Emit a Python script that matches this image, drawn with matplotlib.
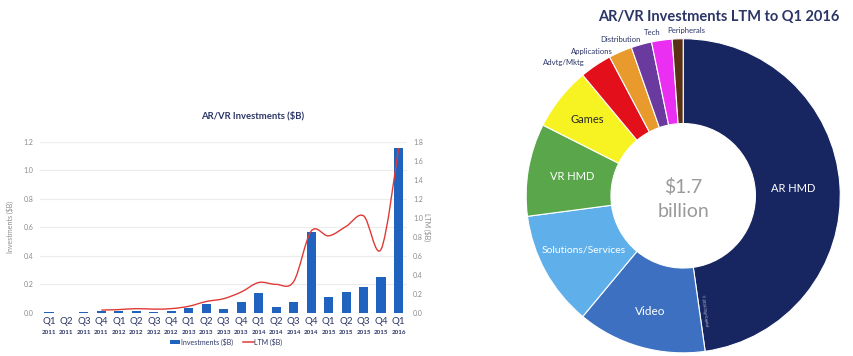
import numpy as np
import matplotlib
matplotlib.use("Agg")
import matplotlib.pyplot as plt
from matplotlib.path import Path
from matplotlib.patches import PathPatch, Patch
from matplotlib.lines import Line2D

plt.rcParams["font.family"] = ["Lato", "DejaVu Sans"]

# ---------------------------------------------------------
# Quarterly investments ($B) and trailing 12-month totals
# ---------------------------------------------------------
quarters = ["Q1", "Q2", "Q3", "Q4"] * 5 + ["Q1"]
years = ["2011"] * 4 + ["2012"] * 4 + ["2013"] * 4 + ["2014"] * 4 + ["2015"] * 4 + ["2016"]
investments = [0.005, 0.002, 0.007, 0.010, 0.015, 0.015, 0.003, 0.015,
               0.035, 0.060, 0.030, 0.080, 0.140, 0.045, 0.080, 0.565,
               0.115, 0.148, 0.180, 0.250, 1.155]
# LTM series begins at Q4 2011 (index 3)
ltm_start = 3
ltm = [0.030, 0.035, 0.045, 0.040, 0.045, 0.070, 0.120, 0.150, 0.220,
       0.320, 0.300, 0.330, 0.860, 0.810, 0.910, 1.020, 0.670, 1.730]

# ---------------------------------------------------------
# LTM breakdown by segment ($M)
# ---------------------------------------------------------
segments = ["AR HMD", "Video", "Solutions/Services", "VR HMD", "Games",
            "Advtg/Mktg", "Applications", "Distribution", "Tech", "Peripherals"]
segment_values = [813, 226, 202, 162, 111, 56, 41, 36, 36, 19]
segment_colors = ["#172660", "#3d70c0", "#5fb0ea", "#5aa64a", "#f7f322",
                  "#e3101c", "#e89a2c", "#6b3a9e", "#ea2ef2", "#5a3112"]

NAVY = "#2b3566"
GREY = "#8a8a8a"
BAR_BLUE = "#1f63bf"
LINE_RED = "#e03a36"


def smooth_path(xs, ys, tension=0.5):
    """Catmull-Rom style cubic path through the given points."""
    xs = np.asarray(xs, float)
    ys = np.asarray(ys, float)
    verts = [(xs[0], ys[0])]
    codes = [Path.MOVETO]
    n = len(xs)
    for i in range(n - 1):
        x0, y0 = (xs[i - 1], ys[i - 1]) if i > 0 else (xs[i], ys[i])
        x3, y3 = (xs[i + 2], ys[i + 2]) if i + 2 < n else (xs[i + 1], ys[i + 1])
        x1, y1 = xs[i], ys[i]
        x2, y2 = xs[i + 1], ys[i + 1]
        c1 = (x1 + (x2 - x0) * tension / 3, y1 + (y2 - y0) * tension / 3)
        c2 = (x2 - (x3 - x1) * tension / 3, y2 - (y3 - y1) * tension / 3)
        verts += [c1, c2, (x2, y2)]
        codes += [Path.CURVE4] * 3
    return Path(verts, codes)


fig = plt.figure(figsize=(8.54, 3.56), dpi=100)

# --- Bar + line chart ---
ax = fig.add_axes([0.047, 0.121, 0.430, 0.481])
x = np.arange(len(investments))
ax.bar(x, investments, width=0.53, color=BAR_BLUE, zorder=2)
ax.set_xlim(-0.5, len(investments) - 0.5)
ax.set_ylim(0, 1.2)
yt = np.arange(0, 1.21, 0.2)
ax.set_yticks(yt)
ax.set_yticklabels([f"{v:.1f}" for v in yt])
ax.grid(axis="y", color="#ececec", linewidth=0.8, zorder=0)
ax.set_axisbelow(True)
for s in ax.spines.values():
    s.set_visible(False)
ax.tick_params(axis="y", length=0, labelsize=5, labelcolor=GREY, pad=5)
ax.tick_params(axis="x", length=0, labelsize=7, labelcolor=NAVY, pad=3)
ax.set_xticks(x)
ax.set_xticklabels(quarters)
for xi, yr in zip(x, years):
    ax.annotate(yr, (xi, 0), xycoords=("data", "axes fraction"),
                xytext=(0, -12.5), textcoords="offset points",
                ha="center", va="top", fontsize=4.5, fontweight="bold", color=NAVY)
ax.set_ylabel("Investments ($B)", fontsize=5, color=GREY, labelpad=7)

fig.text(253 / 854, 1 - 116 / 356, "AR/VR Investments ($B)", ha="center",
         va="center", fontsize=6.8, fontweight="bold", color=NAVY)

ax2 = ax.twinx()
ax2.set_ylim(0, 1.8)
yt2 = np.arange(0, 1.81, 0.2)
ax2.set_yticks(yt2)
ax2.set_yticklabels([f"{v:.1f}" for v in yt2])
for s in ax2.spines.values():
    s.set_visible(False)
ax2.tick_params(axis="y", length=0, labelsize=5, labelcolor=GREY, pad=4)
ax2.set_ylabel("LTM ($B)", fontsize=5, color=GREY, rotation=270, labelpad=6)
ltm_x = x[ltm_start:ltm_start + len(ltm)]
ax2.add_patch(PathPatch(smooth_path(ltm_x, ltm), facecolor="none",
                        edgecolor=LINE_RED, linewidth=1.0, zorder=3))

handles = [Patch(facecolor=BAR_BLUE), Line2D([], [], color=LINE_RED, lw=1.1)]
fig.legend(handles, ["Investments ($B)", "LTM ($B)"], loc="center",
           bbox_to_anchor=(226 / 854, 0.04), ncol=2, frameon=False, fontsize=5,
           handlelength=1.5, handleheight=0.45, columnspacing=1.5, handletextpad=0.1,
           labelcolor=NAVY)

# --- Donut chart ---
pax = fig.add_axes([0.612, 0.0, 0.376, 0.90])
wedges, _ = pax.pie(segment_values, colors=segment_colors, startangle=90,
                    counterclock=False, radius=1.0,
                    wedgeprops=dict(width=0.54, edgecolor="white", linewidth=0.8))
pax.set_aspect("equal")
pax.set_xlim(-1.02, 1.02)
pax.set_ylim(-1.02, 1.02)
pax.text(0, 0.054, "$1.7", ha="center", va="center", fontsize=14, color="#9a9a9a")
pax.text(0, -0.10, "billion", ha="center", va="center", fontsize=14, color="#9a9a9a")

# label styling: (colour, font size, radius) for labels inside the ring
inner = {"AR HMD": ("white", 8, 0.70), "Video": ("white", 8.5, 0.765),
         "Solutions/Services": ("white", 7.5, 0.72), "VR HMD": ("white", 8, 0.72),
         "Games": ("#2a2a2a", 8, 0.78)}
# small wedges are labelled outside the ring, offset in pixels from the rim
outer = {"Advtg/Mktg": (-11, 3, "right"), "Applications": (-8, 0, "right"),
         "Distribution": (-1, 5, "right"), "Tech": (-1, 8, "right"),
         "Peripherals": (9, 8, "center")}
for w, name in zip(wedges, segments):
    theta = np.deg2rad((w.theta1 + w.theta2) / 2)
    if name in inner:
        col, fs, r = inner[name]
        pax.text(r * np.cos(theta), r * np.sin(theta), name, ha="center",
                 va="center", fontsize=fs, color=col)
    else:
        dx, dy, ha = outer[name]
        pax.annotate(name, (np.cos(theta), np.sin(theta)), xytext=(dx, dy),
                     textcoords="offset pixels", ha=ha, va="center",
                     fontsize=5.6, color=NAVY, annotation_clip=False)

# source note running along the AR HMD / Video edge
edge = np.deg2rad(wedges[0].theta1)
pax.text(0.74 * np.cos(edge) + 0.03, 0.74 * np.sin(edge), "© 2016 Digi-Capital",
         rotation=np.rad2deg(edge), rotation_mode="anchor", ha="center",
         va="center", fontsize=2.6, color="#c8cde0")

fig.text(719 / 854, 1 - 17 / 356, "AR/VR Investments LTM to Q1 2016", ha="center",
         va="center", fontsize=10.5, fontweight="bold", color=NAVY)

fig.savefig("out.png", dpi=100, facecolor="white")
